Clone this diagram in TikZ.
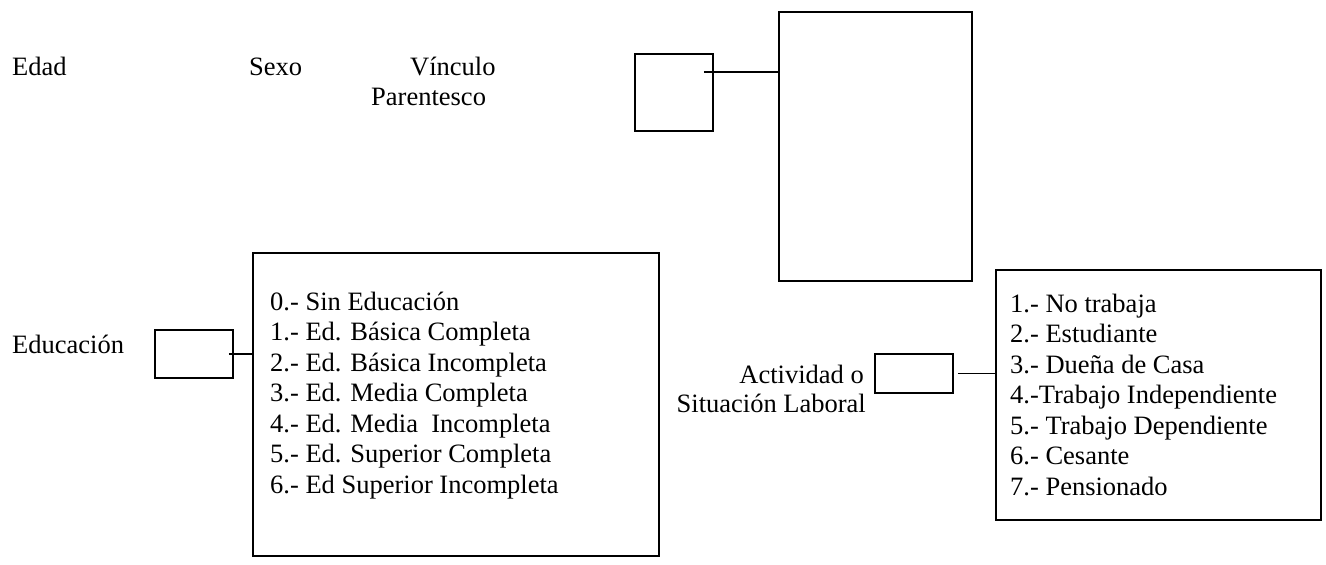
\documentclass[tikz,border=0pt]{standalone}
\usepackage{fontspec}
\setmainfont{Liberation Serif}
\usetikzlibrary{positioning}

\tikzset{
  txt/.style={inner sep=0pt, anchor=base west, font=\fontsize{26.5}{30.5}\selectfont},
  box/.style={draw, line width=1.8pt, inner sep=0pt, anchor=north west},
  link/.style={line width=1.8pt},
}

\begin{document}
\begin{tikzpicture}[x=1pt, y=-1pt]
\useasboundingbox (0,0) rectangle (1326,565);

% top row
\node[txt] (edad) at (12,75) {Edad};
\node[txt] (sexo) at (249,75) {Sexo};
\node[txt] (vinc) at (410,75) {Vínculo};
\node[txt] (par) at (371,105) {Parentesco};

\node[box, minimum width=78pt, minimum height=77pt] (vinbox) at (634,53) {};
\node[box, minimum width=193pt, minimum height=269pt] (vinbig) at (778,11) {};
\draw[link] ([xshift=-10pt,yshift=20.5pt]vinbox.east) -- ([yshift=20.5pt]vinbox.east -| vinbig.west);

% educacion
\node[txt] (edulbl) at (12,353) {Educación};
\node[box, minimum width=78pt, minimum height=48pt] (edubox) at (154,329) {};
\node[box, minimum width=406pt, minimum height=303pt] (edulist) at (252,252) {};
\draw[link] ([xshift=-5pt]edubox.east) -- (edubox.east -| edulist.west);

\foreach \t [count=\i from 0] in {0.- Sin Educación, 1.- Ed. Básica Completa,
  2.- Ed. Básica Incompleta, 3.- Ed. Media Completa, 4.- Ed. Media \ Incompleta,
  5.- Ed. Superior Completa, 6.- Ed Superior Incompleta}
  \node[txt] (edu\i) at (270,310+30.5*\i) {\t};

% actividad
\node[txt, anchor=base east] (act1) at (864,383) {Actividad o};
\node[txt, anchor=base east] (act2) at (866,412) {Situación Laboral};
\node[box, minimum width=78pt, minimum height=39pt] (actbox) at (874,353) {};
\node[box, minimum width=325pt, minimum height=250pt] (actlist) at (995,269) {};
\draw[link] ([xshift=4pt]actbox.east) -- (actbox.east -| actlist.west);

\foreach \t [count=\i from 0] in {1.- No trabaja, 2.- Estudiante, 3.- Dueña de Casa,
  4.-Trabajo Independiente, 5.- Trabajo Dependiente, 6.- Cesante, 7.- Pensionado}
  \node[txt] (act\i) at (1010,312+30.5*\i) {\t};

\end{tikzpicture}
\end{document}
